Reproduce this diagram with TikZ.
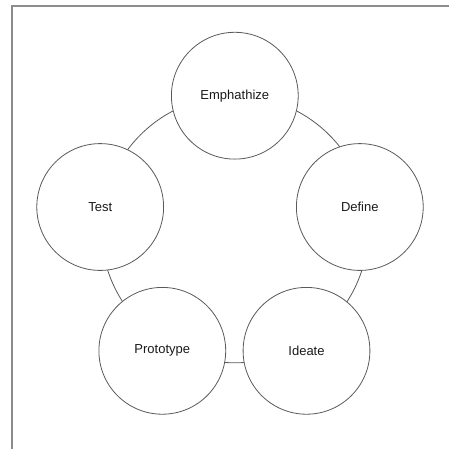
\documentclass[tikz,border=0pt]{standalone}
\usepackage{fontspec}
\setmainfont{Liberation Sans}
\definecolor{framegray}{HTML}{8C8C8C}
\definecolor{strokegray}{HTML}{5A5A5A}
\definecolor{labelink}{HTML}{1A1A1A}
\begin{document}
\begin{tikzpicture}[x=1pt,y=-1pt,
  stage/.style={circle, draw=strokegray, line width=0.8pt, fill=white,
    minimum size=126.8pt, inner sep=0pt, text=labelink,
    font=\fontsize{13}{15}\selectfont},
  ring/.style={circle, draw=strokegray, line width=0.8pt,
    minimum size=267pt, inner sep=0pt}]
  \useasboundingbox (0,0) rectangle (449,448);
  \fill[white] (0,0) rectangle (449,448);
  \clip (0,0) rectangle (449,448);
  % outer frame, open towards the right and bottom edges
  \draw[framegray, line width=1.1pt] (12,6) rectangle (455,455);
  % the cycle ring behind the stages
  \node[ring] (cycle) at (234.8,229.3) {};
  % the five stages
  \node[stage] (emp) at (234.8,95.7)  {Emphathize};
  \node[stage] (def) at (359.8,207.0) {Define};
  \node[stage] (ide) at (306.5,350.8) {Ideate};
  \node[stage] (pro) at (162.3,350.8) {Prototype};
  \node[stage] (tst) at (100.2,207.0) {Test};
\end{tikzpicture}
\end{document}
